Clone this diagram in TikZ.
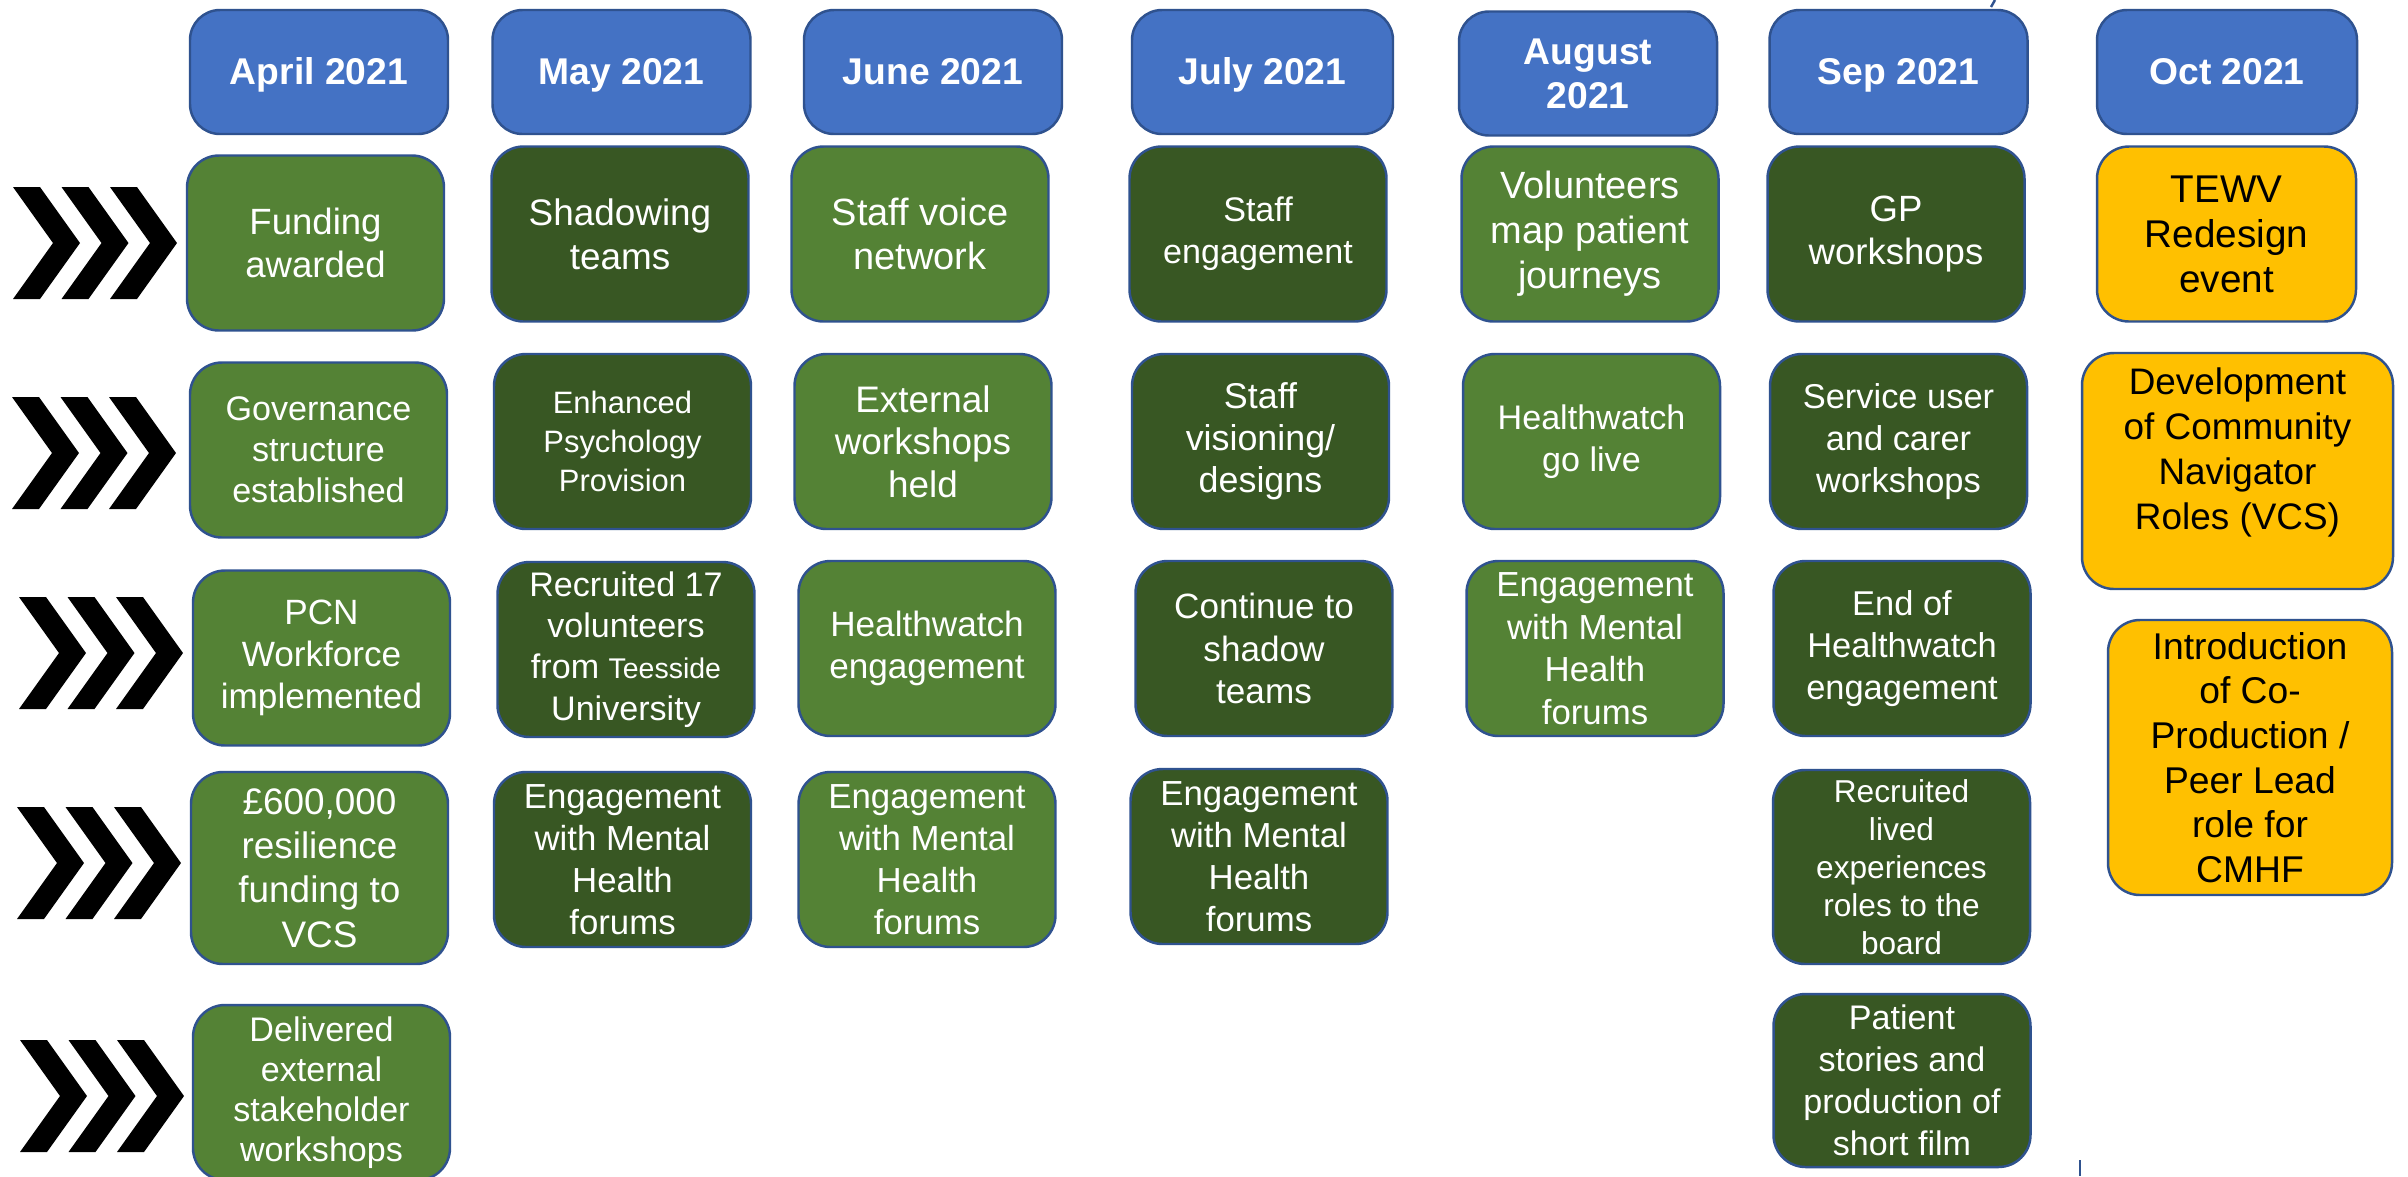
\documentclass[tikz,border=0pt]{standalone}
\usepackage{fontspec}
\setmainfont{Liberation Sans}
\usepackage{tikz}
\definecolor{monthblue}{HTML}{4472C4}
\definecolor{edgeblue}{HTML}{2F528F}
\definecolor{leafgreen}{HTML}{548235}
\definecolor{forestgreen}{HTML}{385723}
\definecolor{amber}{HTML}{FFC000}

\begin{document}
\begin{tikzpicture}[x=0.1mm, y=-0.1mm,
    month/.style = {rectangle, rounded corners=3mm, draw=edgeblue, line width=0.7pt, fill=monthblue, text=white, align=center, inner sep=0pt, minimum width=25.8mm, minimum height=12.4mm, text height=3.35mm, text depth=0.78mm, font=\fontsize{10.6}{12.5}\selectfont\bfseries},
    task/.style = {rectangle, rounded corners=3.2mm, draw=edgeblue, line width=0.7pt, text=white, align=center, inner sep=0pt, minimum width=25.7mm, minimum height=17.5mm, font=\fontsize{10.2}{12.1}\selectfont},
    lightbox/.style = {task, fill=leafgreen},
    darkbox/.style = {task, fill=forestgreen},
    goldbox/.style = {task, fill=amber, text=black},
    fs/.style 2 args = {font=\fontsize{#1}{#2}\selectfont},
    chevron/.style = {fill=black}
]

% Page
\useasboundingbox (0,0) rectangle (2408,1176);
\fill[white] (0,0) rectangle (2408,1176);

% Chevrons
\foreach \yt/\xo in {187/13, 397/12, 597/19, 807/17, 1040/20}
  \foreach \k in {0,1,2}
    \fill[chevron] ({\xo+48.5*\k},\yt) -- ++(27,0) -- ++(40,56) -- ++(-40,56) -- ++(-27,0) -- ++(40,-56) -- cycle;

% Month headers
\node (apr) [month] at (319, 72) {April 2021};
\node (may) [month] at (621.5, 72) {May 2021};
\node (jun) [month] at (933, 72) {June 2021};
\node (jul) [month, minimum width=26.1mm] at (1262.5, 72) {July 2021};
\node (aug) [month, text height=, text depth=] at (1588, 73.5) {August\\2021};
\node (sep) [month] at (1898.5, 72) {Sep 2021};
\node (oct) [month, minimum width=26mm] at (2227, 72) {Oct 2021};

% Row 1
\node (fund) [lightbox, fs={10.4}{12.2}] at (315.5, 243) {Funding\\awarded};
\node (shadow) [darkbox, fs={10.5}{12.5}] at (620, 234) {Shadowing\\teams};
\node (voice) [lightbox, fs={10.8}{12.5}] at (920, 234) {Staff voice\\network};
\node (staffeng) [darkbox, fs={9.7}{11.9}] at (1258, 234) {Staff\\engagement};
\node (journeys) [lightbox, fs={10.8}{12.8}] at (1590, 234) {Volunteers\\map patient\\journeys};
\node (gpws) [darkbox, fs={10.4}{12.5}] at (1896, 234) {GP\\workshops};
\node (tewv) [goldbox, fs={11}{12.8}, minimum width=25.9mm] at (2226.5, 234) {TEWV\\Redesign\\event};

% Row 2
\node (gov) [lightbox, fs={9.7}{11.7}] at (318.5, 450) {Governance\\structure\\established};
\node (psych) [darkbox, fs={8.8}{11.1}] at (622.5, 441.5) {Enhanced\\Psychology\\Provision};
\node (extws) [lightbox, fs={10.5}{12.1}] at (923, 441.5) {External\\workshops\\held};
\node (vision) [darkbox, fs={10.2}{12}] at (1260.5, 441.5) {Staff\\visioning/\\designs};
\node (hwlive) [lightbox, fs={9.7}{12}] at (1591.5, 441.5) {Healthwatch\\go live};
\node (suws) [darkbox, fs={9.8}{12}] at (1898.5, 441.5) {Service user\\and carer\\workshops};
\node (navig) [goldbox, fs={10.5}{12.8}, minimum width=31.1mm, minimum height=23.6mm] at (2237.5, 471) {Development\\of Community\\Navigator\\Roles (VCS)\\\mbox{}};

% Row 3
\node (pcn) [lightbox, fs={10}{12}] at (321.5, 658) {PCN\\Workforce\\implemented};
\node (recr) [darkbox, fs={9.7}{11.7}] at (626, 649.5) {Recruited 17\\volunteers\\from {\fontsize{8.1}{11.7}\selectfont Teesside}\\University};
\node (hweng) [lightbox, fs={10}{12}] at (927, 648.5) {Healthwatch\\engagement};
\node (contin) [darkbox, fs={10}{12}] at (1264, 648.5) {Continue to\\shadow\\teams};
\node (engaug) [lightbox, fs={9.9}{12.1}] at (1595, 648.5) {Engagement\\with Mental\\Health\\forums};
\node (hwend) [darkbox, fs={9.8}{12}] at (1902, 648.5) {End of\\Healthwatch\\engagement};
\node (coprod) [goldbox, fs={10.6}{12.7}, minimum width=28.4mm, minimum height=27.5mm] at (2250, 757.5) {Introduction\\of Co-\\Production /\\Peer Lead\\role for\\CMHF};

% Row 4
\node (resil) [lightbox, fs={10.5}{12.6}, minimum height=19.2mm] at (319.5, 868) {£600,000\\resilience\\funding to\\VCS};
\node (engmay) [darkbox, fs={9.9}{11.9}] at (622.5, 859.5) {Engagement\\with Mental\\Health\\forums};
\node (engjun) [lightbox, fs={9.9}{11.9}] at (927, 859.5) {Engagement\\with Mental\\Health\\forums};
\node (engjul) [darkbox, fs={9.9}{11.9}] at (1259, 856.5) {Engagement\\with Mental\\Health\\forums};
\node (lived) [darkbox, fs={9}{10.8}, minimum height=19.4mm] at (1901.5, 867) {Recruited\\lived\\experiences\\roles to the\\board};

% Row 5
\node (stake) [lightbox, fs={9.7}{11.4}] at (321.5, 1092.5) {Delivered\\external\\stakeholder\\workshops};
\node (film) [darkbox, fs={9.7}{11.9}, minimum height=17.3mm] at (1902, 1080.5) {Patient\\stories and\\production of\\short film};

% Stray marks
\draw[edgeblue, line width=0.7pt] (1995,0) -- (1991,7);
\draw[edgeblue, line width=0.8pt] (2080,1160) -- (2080,1176);

\end{tikzpicture}
\end{document}
